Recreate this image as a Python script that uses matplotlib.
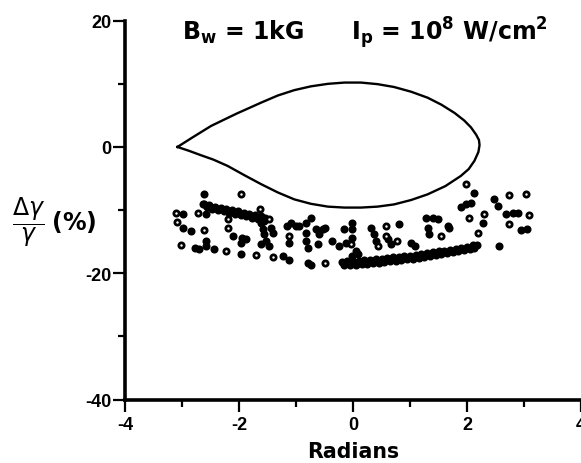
import matplotlib
matplotlib.use("Agg")
import matplotlib.pyplot as plt
from matplotlib.ticker import MultipleLocator

plt.rcParams['axes.unicode_minus'] = False
plt.rcParams['font.family'] = ['DejaVu Sans']
plt.rcParams['mathtext.default'] = 'rm'

# ---- separatrix outline (radians, percent) ----
sep_x = [-3.08, -2.80, -2.49, -2.05, -1.61, -1.32, -1.03, -0.74, -0.44, -0.15, 0.14, 0.43, 0.72,
         1.02, 1.31, 1.55, 1.78, 1.95, 2.07, 2.16, 2.21, 2.22, 2.20, 2.13, 2.03, 1.89, 1.62, 1.31,
         1.02, 0.72, 0.43, 0.14, -0.15, -0.44, -0.74, -1.03, -1.32, -1.61, -1.90, -2.20, -2.45,
         -2.67, -2.88, -3.08]
sep_y = [0.0, 1.6, 3.33, 5.25, 7.03, 8.15, 9.0, 9.6, 10.0, 10.2, 10.2, 9.95, 9.5,
         8.75, 7.8, 6.7, 5.4, 4.2, 3.1, 1.95, 1.1, 0.3, -0.8, -2.2, -3.5, -4.6, -6.2, -7.5,
         -8.4, -9.1, -9.45, -9.6, -9.6, -9.45, -9.0, -8.3, -7.2, -5.9, -4.5, -3.0, -2.0,
         -1.3, -0.6, 0.0]

# ---- open-circle particles ----
open_x = [-1.96, -3.11, -3.08, -2.72, -2.20, -2.62, -2.20, -3.02, -2.23, -1.70, -1.64, -1.47,
          -1.12, -0.50, -1.41, 0.58, 0.58, 0.78, 1.54, 0.43, 1.99, 2.04, 2.30, 2.74, 3.04, 3.09,
          2.74, 2.19, -0.04]
open_y = [-7.51, -10.43, -11.90, -10.52, -11.38, -13.22, -12.81, -15.56, -16.51, -17.14, -9.89, -11.48,
          -14.13, -18.37, -17.46, -12.54, -14.13, -14.92, -14.13, -15.71, -5.83, -11.22, -10.68, -7.62, -7.41, -10.84,
          -12.17, -13.70, -15.40]

# ---- filled particles ----
solid_x = [-2.61, -2.64, -2.99, -2.58, -2.99, -2.84, -2.11, -1.94, -1.88, -1.96, -2.78, -2.70,
           -2.58, -2.58, -2.43, -1.96, -1.61,
           -1.61, -1.61, -1.58, -1.56, -1.53, -1.44, -1.41, -1.47, -1.23, -1.12, -1.15, -1.09,
           -1.00, -1.12, -0.94, -0.82, -0.74, -0.82, -0.82, -0.79, -0.79, -0.74, -0.65, -0.59,
           -0.62, -0.53, -0.36, -0.24, -0.12, -0.15, -0.01, -0.01, -0.01, -0.01, -0.50,
           0.32, 0.37, 0.40, 0.61, 0.67, 0.81, 1.02, 1.08, 1.28, 1.40, 1.49, 1.31, 1.34, 1.66,
           0.05, 0.08, 2.13, 1.89, 1.98, 2.07, 2.28, 2.48, 2.54, 2.68, 2.80, 2.89, 2.95, 3.06,
           2.57, 1.69]
solid_y = [-7.51, -9.10, -10.68, -10.59, -12.81, -13.33, -14.13, -14.40, -14.65, -15.19, -15.98, -16.14,
           -15.71, -14.92, -16.24, -16.94, -15.40,
           -10.95, -12.02, -13.06, -13.86, -14.92, -12.81, -13.60, -15.71, -17.30, -17.83, -12.54, -12.02,
           -12.54, -15.19, -12.54, -12.02, -11.22, -13.60, -14.92, -15.98, -18.37, -18.62, -13.06, -13.86,
           -15.44, -13.06, -14.92, -15.71, -15.19, -13.06, -12.02, -17.30, -13.06, -14.40, -12.81,
           -12.81, -13.86, -14.92, -14.65, -15.44, -12.27, -15.19, -15.71, -11.22, -11.22, -11.48, -12.81, -13.86, -12.54,
           -16.51, -17.03, -7.25, -9.52, -9.10, -8.84, -12.02, -8.30, -9.37, -10.68, -10.43, -10.43, -13.22, -13.06,
           -15.71, -12.81]

# ---- upper dense band ----
band1_x = [-2.62, -2.52, -2.42, -2.32, -2.22, -2.12, -2.02, -1.92, -1.82, -1.72, -1.62, -1.55,
           -2.57, -2.47, -2.37, -2.27, -2.17, -2.07, -1.97, -1.87, -1.77, -1.67, -1.57]
band1_y = [-9.0, -9.2, -9.45, -9.6, -9.85, -10.05, -10.2, -10.45, -10.6, -10.85, -11.05, -11.3,
           -9.55, -9.75, -9.95, -10.2, -10.4, -10.6, -10.8, -11.0, -11.25, -11.45, -11.7]

# ---- lower dense band ----
band2_x = [-0.20, -0.10, 0.00, 0.10, 0.20, 0.30, 0.40, 0.50, 0.60, 0.70, 0.80, 0.90, 1.00,
           1.10, 1.20, 1.30, 1.40, 1.50, 1.60, 1.70, 1.80, 1.90, 2.00, 2.10, 2.17,
           -0.15, -0.05, 0.05, 0.15, 0.25, 0.35, 0.45, 0.55, 0.65, 0.75, 0.85, 0.95, 1.05,
           1.15, 1.25, 1.35, 1.45, 1.55, 1.65, 1.75, 1.85, 1.95, 2.05, 2.12]
band2_y = [-18.15, -18.1, -18.05, -18.0, -17.93, -17.87, -17.8, -17.7, -17.6, -17.5, -17.4, -17.3, -17.2,
           -17.07, -16.93, -16.8, -16.67, -16.53, -16.4, -16.27, -16.12, -15.95, -15.78, -15.6, -15.5,
           -18.72, -18.67, -18.62, -18.55, -18.5, -18.42, -18.33, -18.23, -18.12, -18.02, -17.92, -17.8, -17.67,
           -17.53, -17.4, -17.27, -17.13, -16.98, -16.83, -16.67, -16.5, -16.33, -16.15, -16.0]

x_ticks = [-4, -2, 0, 2, 4]
y_ticks = [-40, -20, 0, 20]

W, H = 581, 464
fig = plt.figure(figsize=(W / 100, H / 100), dpi=100)
ax = fig.add_axes([125 / W, 1 - 400.5 / H, 1 - 125 / W, (400.5 - 21.7) / H])
ax.set_xlim(-4, 4)
ax.set_ylim(-40, 20)

ax.plot(sep_x, sep_y, color='black', lw=1.7, solid_joinstyle='round', zorder=2)

ms, mew = 3.8, 2.0
ax.plot(band1_x, band1_y, 'o', ms=ms, mfc='black', mec='black', mew=mew, ls='none', zorder=3)
ax.plot(band2_x, band2_y, 'o', ms=ms, mfc='black', mec='black', mew=mew, ls='none', zorder=3)
ax.plot(solid_x, solid_y, 'o', ms=ms, mfc='black', mec='black', mew=mew, ls='none', zorder=3)
ax.plot(open_x, open_y, 'o', ms=ms, mfc='white', mec='black', mew=mew, ls='none', zorder=4)

for s in ['top', 'right']:
    ax.spines[s].set_visible(False)
for s in ['left', 'bottom']:
    ax.spines[s].set_linewidth(2.6)

ax.set_xticks(x_ticks)
ax.set_yticks(y_ticks)
ax.xaxis.set_minor_locator(MultipleLocator(1))
ax.yaxis.set_minor_locator(MultipleLocator(10))
ax.tick_params(axis='both', which='major', direction='out', length=8.5, width=1.6)
ax.tick_params(axis='both', which='minor', direction='out', length=5, width=1.6)
ax.tick_params(axis='x', which='major', pad=3.5)
ax.tick_params(axis='y', which='major', pad=1)
for lab in ax.get_xticklabels() + ax.get_yticklabels():
    lab.set_family(['Liberation Sans', 'DejaVu Sans'])
    lab.set_fontweight('bold')
    lab.set_fontsize(13)

ax.set_xlabel('Radians', fontsize=14.8, fontweight='bold', labelpad=6)

fig.text(12 / W, 1 - 222 / H,
         r'$\dfrac{\mathrm{\Delta}\mathit{\gamma}}{\mathit{\gamma}}\;$(%)', fontsize=17,
         fontweight='bold', ha='left', va='center')

fig.text(182 / W, 1 - 40 / H, r'B$_\mathbf{w}$ = 1kG', fontsize=17, fontweight='bold',
         ha='left', va='baseline')
fig.text(548 / W, 1 - 40 / H, r'I$_\mathbf{p}$ = 10$^\mathbf{8}$ W/cm$^\mathbf{2}$', fontsize=17,
         fontweight='bold', ha='right', va='baseline')

fig.savefig('out.png', dpi=100)
